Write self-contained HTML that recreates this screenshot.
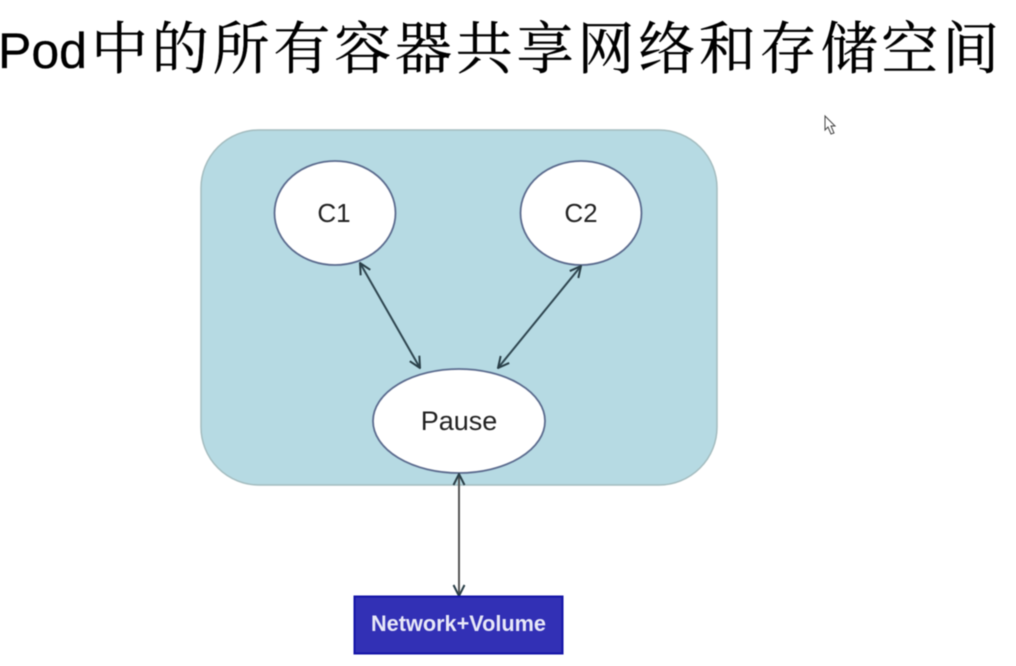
<!DOCTYPE html>
<html>
<head>
<meta charset="utf-8">
<style>
html,body{margin:0;padding:0;background:#fff;width:1016px;height:666px;overflow:hidden}
svg{display:block;filter:blur(0.45px)}
</style>
</head>
<body>
<svg width="1016" height="666" viewBox="0 0 1016 666" xmlns="http://www.w3.org/2000/svg">
<defs>
<marker id="a" viewBox="0 0 14 14" refX="13" refY="7" markerWidth="14" markerHeight="14" markerUnits="userSpaceOnUse" orient="auto-start-reverse">
<path d="M2 1.5 L13 7 L2 12.5" fill="none" stroke="#2a3f48" stroke-width="2"/>
</marker>
</defs>
<rect width="1016" height="666" fill="#fff"/>
<text x="-2" y="68" font-family="'Liberation Sans',sans-serif" font-size="50" fill="#000" stroke="#000" stroke-width="0.3">Pod</text>
<text x="91" y="68.500" font-family="'Noto Serif CJK SC','Noto Sans CJK SC',serif" font-size="57" letter-spacing="3.8" fill="#000" stroke="#000" stroke-width="0.4">中的所有容器共享网络和存储空间</text>
<rect x="201" y="130" width="516" height="355" rx="58" ry="58" fill="#b6dae3" stroke="#a4bcbf" stroke-width="1.5"/>
<ellipse cx="335" cy="213" rx="60.5" ry="52" fill="#fff" stroke="#5b6b8e" stroke-width="1.8"/>
<ellipse cx="581" cy="213" rx="60.5" ry="52" fill="#fff" stroke="#5b6b8e" stroke-width="1.8"/>
<ellipse cx="459" cy="421" rx="86" ry="52" fill="#fff" stroke="#5b6b8e" stroke-width="1.8"/>
<g font-family="'Liberation Sans',sans-serif" fill="#222" text-anchor="middle">
<text x="334" y="222" font-size="26">C1</text>
<text x="581" y="222" font-size="26">C2</text>
<text x="459" y="430" font-size="27">Pause</text>
</g>
<g fill="none" stroke="#2f4650" stroke-width="2">
<line x1="360" y1="263" x2="420" y2="368" marker-start="url(#a)" marker-end="url(#a)"/>
<line x1="581" y1="266" x2="498" y2="368" marker-start="url(#a)" marker-end="url(#a)"/>
<line x1="459" y1="474" x2="459" y2="596" stroke="#555" marker-start="url(#a)" marker-end="url(#a)"/>
</g>
<rect x="354.500" y="596.500" width="208" height="57" fill="#3230b5" stroke="#1414a8" stroke-width="2"/>
<text x="458.500" y="631" font-family="'Liberation Sans',sans-serif" font-weight="bold" font-size="22" textLength="175" lengthAdjust="spacingAndGlyphs" fill="#e8e8f8" text-anchor="middle">Network+Volume</text>
<path d="M825 116 L825 130 L828 127 L831 134 L834 133 L831 126 L835 126 Z" fill="#fff" stroke="#444" stroke-width="1"/>
</svg>
</body>
</html>
